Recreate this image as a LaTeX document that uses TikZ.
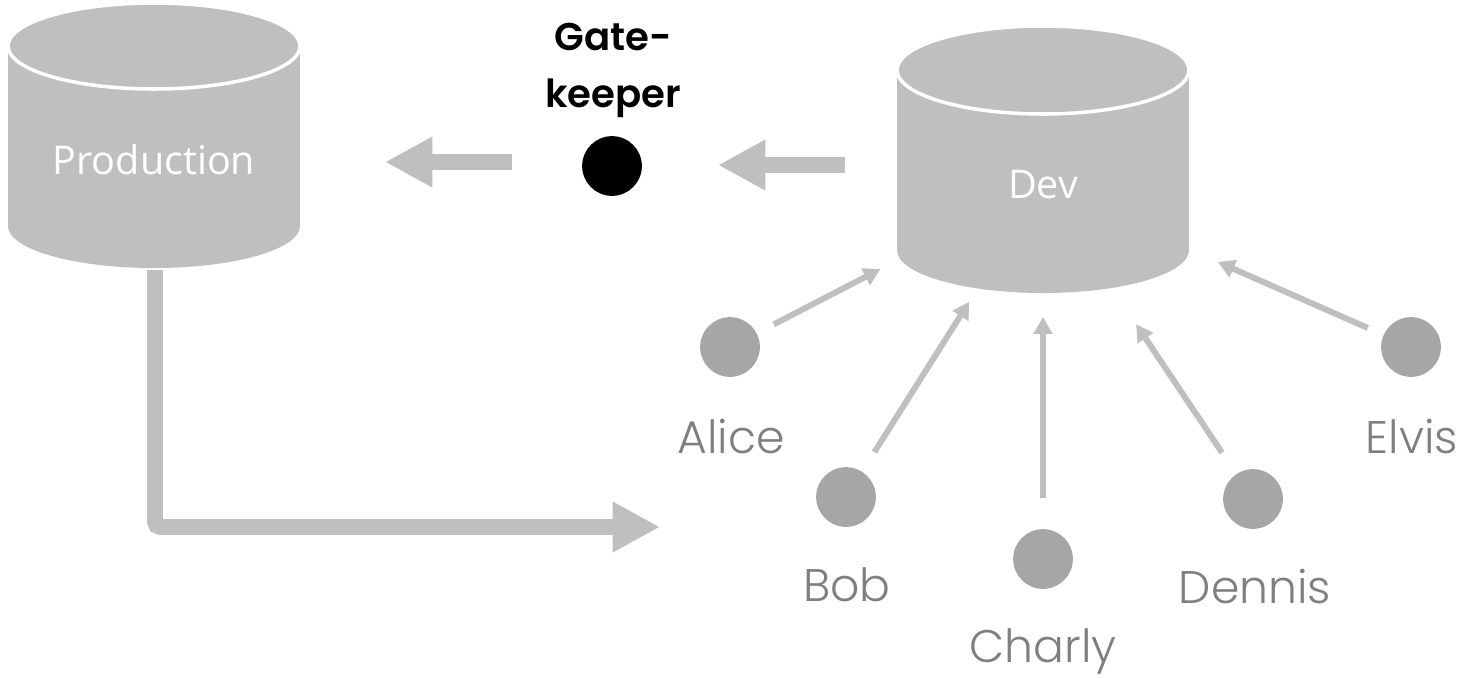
\documentclass[tikz,border=0pt]{standalone}
\usepackage{fontspec}
\usetikzlibrary{arrows.meta}
\setmainfont{Open Sans}
\newfontfamily\namefont{Poppins}[UprightFont=* Light]
\newfontfamily\gatefont{Poppins}[UprightFont=* SemiBold]
\definecolor{dbgray}{HTML}{BFBFBF}
\definecolor{persongray}{HTML}{A6A6A6}
\definecolor{namegray}{HTML}{7F7F7F}

\begin{document}
\begin{tikzpicture}[x=0.02cm,y=-0.02cm,
  dbbody/.style={fill=dbgray},
  dbtop/.style={fill=dbgray,draw=white,line width=2pt},
  dbtext/.style={text=white,font=\fontsize{22.5}{27}\selectfont},
  person/.style={circle,fill=persongray,minimum size=34pt,inner sep=0pt},
  personname/.style={text=namegray,font=\namefont\fontsize{26}{31}\selectfont,anchor=base},
  gatetext/.style={align=center,font=\gatefont\fontsize{22}{32.3}\selectfont},
  bigarrow/.style={draw=dbgray,line width=9pt,-{Triangle[length=27pt,width=27pt]}},
  smallarrow/.style={draw=dbgray,line width=3.4pt,-{Triangle[length=9.6pt,width=10.2pt]}}]

\useasboundingbox (0,0) rectangle (1473,677);

% Production
\fill[dbbody] (8,46) rectangle (300,226);
\fill[dbbody] (154,226) ellipse [x radius=146, y radius=42];
\filldraw[dbtop] (154,46) ellipse [x radius=146, y radius=43];
\node[dbtext] (prod) at (154,160) {Production};

% Dev
\fill[dbbody] (897,70) rectangle (1189,250);
\fill[dbbody] (1043,250) ellipse [x radius=146, y radius=43];
\filldraw[dbtop] (1043,70) ellipse [x radius=146, y radius=44];
\node[dbtext] (dev) at (1043,185) {Dev};

% Gatekeeper
\node[circle,fill=black,minimum size=34pt,inner sep=0pt] (gk) at (612,166) {};
\node[gatetext,anchor=base] (gktext) at (613,107) {Gate-\\keeper};

\coordinate (gkout) at (512,162);
\coordinate (prodin) at (385,162);
\coordinate (devout) at (845,165);
\coordinate (gkin) at (718,165);
\coordinate (prodout) at (155,270);
\coordinate (devin) at (660,527);

\draw[bigarrow] (gkout) -- (prodin);
\draw[bigarrow] (devout) -- (gkin);
\draw[bigarrow,rounded corners=3pt] (prodout) |- (devin);

% developers
\node[person] (alice) at (730,347) {};
\node[person] (bob) at (846,497) {};
\node[person] (charly) at (1043,559) {};
\node[person] (dennis) at (1253,499) {};
\node[person] (elvis) at (1411,347) {};

\node[personname] (alicel) at (731,453) {Alice};
\node[personname] (bobl) at (847,601) {Bob};
\node[personname] (charlyl) at (1043,662) {Charly};
\node[personname] (dennisl) at (1255,603) {Dennis};
\node[personname] (elvisl) at (1412,453) {Elvis};

\draw[smallarrow,shorten <=0.38cm,shorten >=3.66cm] (alice) -- (dev.center);
\draw[smallarrow,shorten <=0.46cm,shorten >=2.76cm] (bob) -- (dev.center);
\draw[smallarrow,shorten <=0.62cm,shorten >=2.64cm] (charly) -- (dev.center);
\draw[smallarrow,shorten <=0.51cm,shorten >=3.35cm] (dennis) -- (dev.center);
\draw[smallarrow,shorten <=0.34cm,shorten >=3.82cm] (elvis) -- (dev.center);

\end{tikzpicture}
\end{document}
